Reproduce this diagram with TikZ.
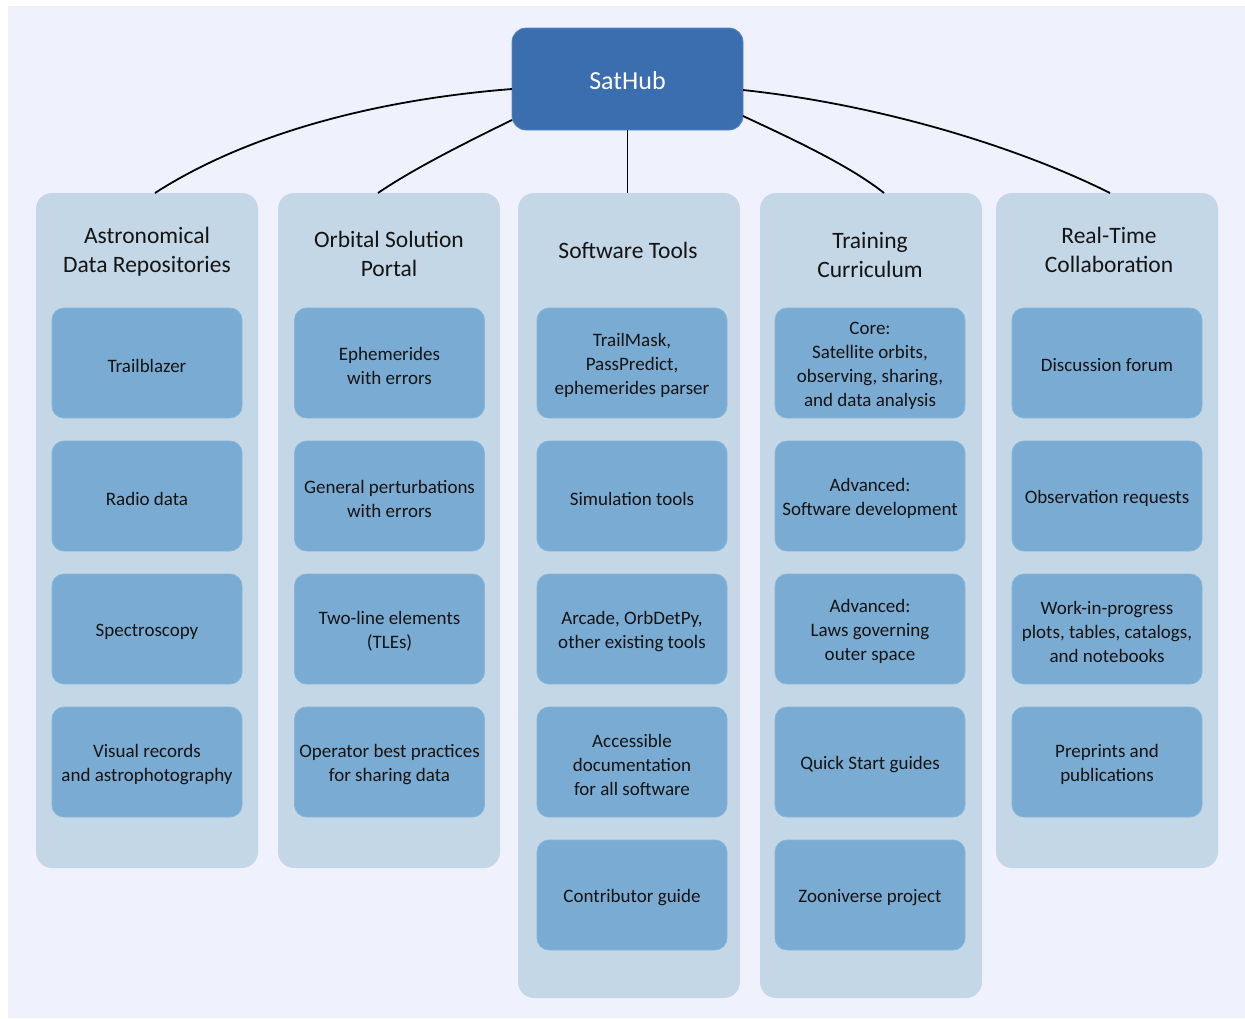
\documentclass[tikz,border=0pt]{standalone}
\usepackage{fontspec}
\setmainfont{Carlito}
\definecolor{bgc}{HTML}{EFF2FD}
\definecolor{colfill}{HTML}{C4D7E6}
\definecolor{itemfill}{HTML}{7AABD2}
\definecolor{itemdraw}{HTML}{88B4D8}
\definecolor{hubfill}{HTML}{3B6EAE}
\definecolor{hubdraw}{HTML}{5C88C0}
\definecolor{txtc}{HTML}{141414}
\newcommand\itembox[3]{%
  \node[item] (#1) at (#2) {};
  \node[itxt] (#1t) at ([yshift=-2.5pt]#1.center) {#3};}
\begin{document}
\begin{tikzpicture}[x=1pt,y=-1pt,
  every node/.style={align=center, text=txtc, inner sep=0pt, outer sep=0pt},
  itxt/.style={font=\fontsize{19}{24}\selectfont},
  col/.style={fill=colfill, rounded corners=16pt, minimum width=222pt},
  item/.style={fill=itemfill, draw=itemdraw, line width=0.8pt, rounded corners=12pt, minimum width=190pt, minimum height=110pt},
  ttl/.style={font=\fontsize{23.5}{29}\selectfont},
  link/.style={line width=1.8pt, black}]
\useasboundingbox (0,0) rectangle (1245,1018);
\fill[white] (0,0) rectangle (1245,1018);
\fill[bgc] (8,6) rectangle (1245,1018);

% columns
\node[col, minimum height=675pt] (c1) at (147,530.5) {};
\node[col, minimum height=675pt] (c2) at (389,530.5) {};
\node[col, minimum height=805pt] (c3) at (629,595.5) {};
\node[col, minimum height=805pt] (c4) at (871,595.5) {};
\node[col, minimum height=675pt] (c5) at (1107,530.5) {};

% hub
\node[fill=hubfill, draw=hubdraw, line width=0.8pt, rounded corners=14pt, minimum width=231pt, minimum height=102pt] (hub) at (627.5,79) {};
\node[text=white, font=\fontsize{26}{30}\selectfont] (hubt) at ([yshift=-2pt]hub.center) {SatHub};

% titles
\node[ttl] (t1) at (147,252) {Astronomical\\Data Repositories};
\node[ttl] (t2) at (389,254) {Orbital Solution\\Portal};
\node[ttl] (t3) at (628,250) {Software Tools};
\node[ttl] (t4) at (870,254.5) {Training\\Curriculum};
\node[ttl] (t5) at (1109,249.5) {Real-Time\\Collaboration};

% column 1
\itembox{a1}{147,363}{Trailblazer}
\itembox{a2}{147,496}{Radio data}
\itembox{a3}{147,629}{Spectroscopy}
\itembox{a4}{147,762}{Visual records\\and astrophotography}

% column 2
\itembox{b1}{389.5,363}{Ephemerides\\with errors}
\itembox{b2}{389.5,496}{General perturbations\\with errors}
\itembox{b3}{389.5,629}{Two-line elements\\(TLEs)}
\itembox{b4}{389.5,762}{Operator best practices\\for sharing data}

% column 3
\itembox{s1}{632,363}{TrailMask,\\PassPredict,\\ephemerides parser}
\itembox{s2}{632,496}{Simulation tools}
\itembox{s3}{632,629}{Arcade, OrbDetPy,\\other existing tools}
\itembox{s4}{632,762}{Accessible\\documentation\\for all software}
\itembox{s5}{632,895}{Contributor guide}

% column 4
\itembox{d1}{870,363}{Core:\\Satellite orbits,\\observing, sharing,\\and data analysis}
\itembox{d2}{870,496}{Advanced:\\Software development}
\itembox{d3}{870,629}{Advanced:\\Laws governing\\outer space}
\itembox{d4}{870,762}{Quick Start guides}
\itembox{d5}{870,895}{Zooniverse project}

% column 5
\itembox{e1}{1107,363}{Discussion forum}
\itembox{e2}{1107,496}{Observation requests}
\itembox{e3}{1107,629}{Work-in-progress\\plots, tables, catalogs,\\and notebooks}
\itembox{e4}{1107,762}{Preprints and\\publications}

% connectors
\draw[link] ([yshift=-10pt]hub.west) .. controls +(-140,11) and +(90,-58) .. ([xshift=8pt]c1.north);
\draw[link] ([yshift=-41pt]hub.west) .. controls +(-45,22) and +(35,-24) .. ([xshift=-11pt]c2.north);
\draw[link] (hub.south) -- (hub.south|-c3.north);
\draw[link] ([yshift=-37pt]hub.east) .. controls +(45,21) and +(-35,-28) .. ([xshift=13pt]c4.north);
\draw[link] ([yshift=-11pt]hub.east) .. controls +(140,15) and +(-90,-45) .. ([xshift=3pt]c5.north);
\end{tikzpicture}
\end{document}
